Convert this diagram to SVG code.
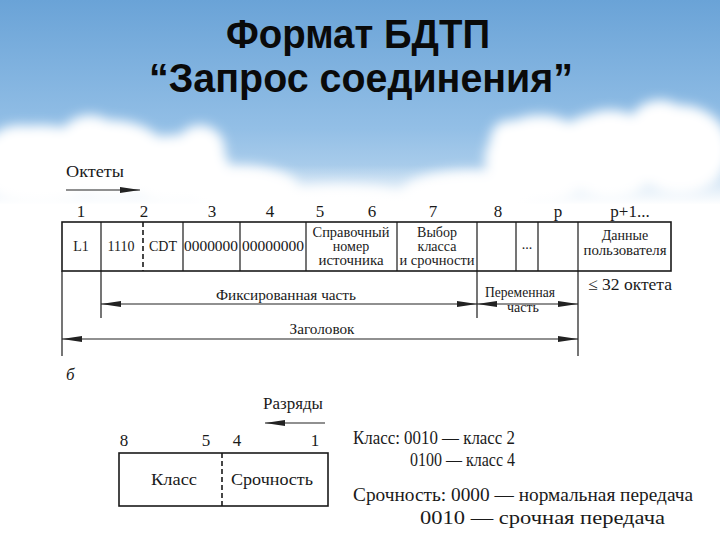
<svg xmlns="http://www.w3.org/2000/svg" width="720" height="540" viewBox="0 0 720 540">
<defs>
  <linearGradient id="sky" x1="0" y1="0" x2="0" y2="1">
    <stop offset="0" stop-color="#6aa3d7"/>
    <stop offset="0.6" stop-color="#93bfe6"/>
    <stop offset="1" stop-color="#c4dcf1"/>
  </linearGradient>
  <linearGradient id="fade" x1="0" y1="0" x2="0" y2="1">
    <stop offset="0" stop-color="#ffffff" stop-opacity="0"/>
    <stop offset="1" stop-color="#ffffff" stop-opacity="1"/>
  </linearGradient>
  <filter id="blur" x="-20%" y="-20%" width="140%" height="140%">
    <feGaussianBlur stdDeviation="6"/>
  </filter>
  <marker id="ah" viewBox="0 0 20 8" refX="20" refY="4" markerWidth="20" markerHeight="8" markerUnits="userSpaceOnUse" orient="auto-start-reverse">
    <path d="M0,1 L20,4 L0,7 Z" fill="#222"/>
  </marker>
  <style>
    .title{font-family:"Liberation Sans",Arial,sans-serif;font-weight:bold;font-size:40px;fill:#0a0a0a;text-anchor:middle}
    .t{font-family:"Liberation Serif","Times New Roman",serif;font-size:14px;fill:#1a1a1a;text-anchor:middle}
    .n{font-family:"Liberation Serif","Times New Roman",serif;font-size:17px;fill:#1a1a1a;text-anchor:middle}
    .l{font-family:"Liberation Serif","Times New Roman",serif;font-size:17px;fill:#1a1a1a}
    .g{font-family:"Liberation Serif","Times New Roman",serif;font-size:18px;fill:#1a1a1a}
    .box{fill:none;stroke:#1a1a1a;stroke-width:1.6}
    .ln{stroke:#1a1a1a;stroke-width:1.2;fill:none}
    .dash{stroke:#1a1a1a;stroke-width:1.6;stroke-dasharray:5,3;fill:none}
    .arr{stroke:#222;stroke-width:1.2;fill:none;marker-end:url(#ah)}
    .arr2{stroke:#222;stroke-width:1.2;fill:none;marker-end:url(#ah);marker-start:url(#ah)}
  </style>
</defs>

<!-- background -->
<rect x="0" y="0" width="720" height="540" fill="#ffffff"/>
<rect x="0" y="0" width="720" height="215" fill="url(#sky)"/>
<g id="clouds" fill="#ffffff" filter="url(#blur)">
  <ellipse cx="40" cy="165" rx="70" ry="40"/>
  <ellipse cx="110" cy="160" rx="60" ry="40"/>
  <ellipse cx="175" cy="170" rx="55" ry="35"/>
  <ellipse cx="200" cy="150" rx="25" ry="25"/>
  <ellipse cx="20" cy="145" rx="30" ry="20"/>
  <ellipse cx="90" cy="140" rx="30" ry="25"/>
  <ellipse cx="240" cy="190" rx="60" ry="25"/>
  <ellipse cx="340" cy="205" rx="80" ry="20"/>
  <ellipse cx="470" cy="195" rx="70" ry="25"/>
  <ellipse cx="540" cy="160" rx="55" ry="45"/>
  <ellipse cx="610" cy="155" rx="50" ry="45"/>
  <ellipse cx="680" cy="150" rx="50" ry="45"/>
  <ellipse cx="510" cy="140" rx="20" ry="20"/>
  <ellipse cx="660" cy="125" rx="30" ry="25"/>
  <ellipse cx="590" cy="135" rx="25" ry="20"/>
</g>
<rect x="0" y="165" width="720" height="40" fill="url(#fade)"/>
<rect x="0" y="204" width="720" height="336" fill="#ffffff"/>

<!-- title -->
<g id="title">
  <text class="title" x="358" y="48" textLength="264" lengthAdjust="spacingAndGlyphs">Формат БДТП</text>
  <text class="title" x="361" y="92" textLength="424" lengthAdjust="spacingAndGlyphs">“Запрос соединения”</text>
</g>

<!-- octets label -->
<g id="octets">
  <text class="l" x="66" y="177" textLength="58" lengthAdjust="spacingAndGlyphs">Октеты</text>
</g>

<!-- octet numbers -->
<g id="octet-numbers">
  <text class="n" x="81" y="217">1</text>
  <text class="n" x="144" y="217">2</text>
  <text class="n" x="212" y="217">3</text>
  <text class="n" x="270" y="217">4</text>
  <text class="n" x="320" y="217">5</text>
  <text class="n" x="372" y="217">6</text>
  <text class="n" x="433" y="217">7</text>
  <text class="n" x="498" y="217">8</text>
  <text class="n" x="558" y="217">p</text>
  <text class="n" x="630" y="217">p+1...</text>
</g>

<!-- packet table -->
<g id="packet">
  <rect class="box" x="62" y="222" width="609" height="49"/>
  <line class="ln" x1="101" y1="222" x2="101" y2="271"/>
  <line class="dash" x1="143" y1="222" x2="143" y2="271"/>
  <line class="ln" x1="183" y1="222" x2="183" y2="271"/>
  <line class="ln" x1="240" y1="222" x2="240" y2="271"/>
  <line class="ln" x1="306" y1="222" x2="306" y2="271"/>
  <line class="ln" x1="397" y1="222" x2="397" y2="271"/>
  <line class="ln" x1="477" y1="222" x2="477" y2="271"/>
  <line class="ln" x1="516" y1="222" x2="516" y2="271"/>
  <line class="ln" x1="538" y1="222" x2="538" y2="271"/>
  <line class="ln" x1="578" y1="222" x2="578" y2="271"/>
</g>
<g id="cell-L1"><text class="t" x="81" y="251">L1</text></g>
<g id="cell-1110"><text class="t" x="121" y="251">1110</text></g>
<g id="cell-CDT"><text class="t" x="163" y="251">CDT</text></g>
<g id="cell-3"><text class="t" x="211" y="251" textLength="54" lengthAdjust="spacingAndGlyphs">0000000</text></g>
<g id="cell-4"><text class="t" x="273" y="251" textLength="62" lengthAdjust="spacingAndGlyphs">00000000</text></g>
<g id="cell-ref">
  <text class="t" x="351" y="237" textLength="77" lengthAdjust="spacingAndGlyphs">Справочный</text>
  <text class="t" x="351" y="251">номер</text>
  <text class="t" x="351" y="265" textLength="65" lengthAdjust="spacingAndGlyphs">источника</text>
</g>
<g id="cell-class">
  <text class="t" x="437" y="237">Выбор</text>
  <text class="t" x="437" y="251">класса</text>
  <text class="t" x="437" y="265" textLength="75" lengthAdjust="spacingAndGlyphs">и срочности</text>
</g>
<g id="cell-dots"><text class="t" x="527" y="249">...</text></g>
<g id="cell-data">
  <text class="t" x="625" y="240">Данные</text>
  <text class="t" x="625" y="255" textLength="83" lengthAdjust="spacingAndGlyphs">пользователя</text>
</g>

<!-- extent labels -->
<g id="labels">
  <text class="t" x="286" y="300" font-size="15" textLength="140" lengthAdjust="spacingAndGlyphs">Фиксированная часть</text>
  <text class="t" x="520" y="297" textLength="70" lengthAdjust="spacingAndGlyphs">Переменная</text>
  <text class="t" x="523" y="312">часть</text>
  <text class="l" x="588" y="290" font-size="16" textLength="84" lengthAdjust="spacingAndGlyphs">≤ 32 октета</text>
  <text class="t" x="322" y="334" font-size="15" textLength="65" lengthAdjust="spacingAndGlyphs">Заголовок</text>
  <text class="l" x="66" y="380" font-style="italic">б</text>
</g>

<!-- connectors -->
<g id="connectors">
  <line class="arr" x1="66" y1="190" x2="140" y2="190"/>
  <line class="ln" x1="62" y1="271" x2="62" y2="356"/>
  <line class="ln" x1="101" y1="271" x2="101" y2="318"/>
  <line class="ln" x1="477" y1="271" x2="477" y2="318"/>
  <line class="ln" x1="578" y1="271" x2="578" y2="356"/>
  <line class="arr2" x1="101" y1="304" x2="477" y2="304"/>
  <line class="arr2" x1="477" y1="304" x2="578" y2="304"/>
  <line class="arr2" x1="62" y1="339" x2="578" y2="339"/>
  <line class="arr" x1="325" y1="423" x2="265" y2="423"/>
</g>

<!-- bits box -->
<g id="bits-label">
  <text class="l" x="263" y="409" textLength="60" lengthAdjust="spacingAndGlyphs">Разряды</text>
</g>
<g id="bit-numbers">
  <text class="n" x="124" y="446">8</text>
  <text class="n" x="206" y="446">5</text>
  <text class="n" x="237" y="446">4</text>
  <text class="n" x="315" y="446">1</text>
</g>
<g id="bits-box">
  <rect class="box" x="119" y="453" width="209" height="53"/>
  <line class="dash" x1="222" y1="453" x2="222" y2="506" stroke-width="1.2" stroke-dasharray="4,3"/>
  <text class="n" x="174" y="485" font-size="16" textLength="46" lengthAdjust="spacingAndGlyphs">Класс</text>
  <text class="n" x="272" y="485" font-size="16" textLength="82" lengthAdjust="spacingAndGlyphs">Срочность</text>
</g>

<!-- legend -->
<g id="legend">
  <text class="g" x="353" y="444" textLength="162" lengthAdjust="spacingAndGlyphs">Класс: 0010 — класс 2</text>
  <text class="g" x="410" y="466" textLength="105" lengthAdjust="spacingAndGlyphs">0100 — класс 4</text>
  <text class="g" x="353" y="501" textLength="340" lengthAdjust="spacingAndGlyphs">Срочность: 0000 — нормальная передача</text>
  <text class="g" x="420" y="524" textLength="245" lengthAdjust="spacingAndGlyphs">0010 — срочная передача</text>
</g>
</svg>
